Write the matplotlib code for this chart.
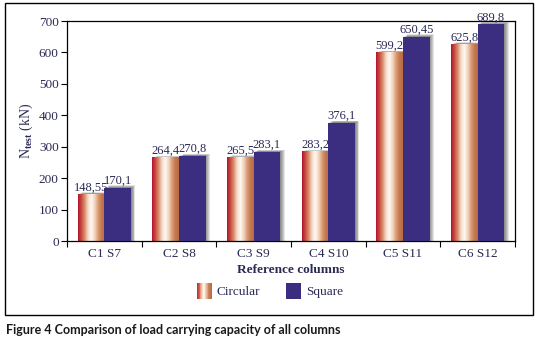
import numpy as np
import matplotlib
matplotlib.use("Agg")
import matplotlib.pyplot as plt
from matplotlib.patches import Rectangle
from matplotlib.colors import LinearSegmentedColormap
from matplotlib.legend_handler import HandlerBase

categories = ["C1 S7", "C2 S8", "C3 S9", "C4 S10", "C5 S11", "C6 S12"]
circular = [148.55, 264.4, 265.5, 283.2, 599.2, 625.8]
square = [170.1, 270.8, 283.1, 376.1, 650.45, 689.8]
circ_labels = ["148,55", "264,4", "265,5", "283,2", "599,2", "625,8"]
sq_labels = ["170,1", "270,8", "283,1", "376,1", "650,45", "689,8"]
yticks = [0, 100, 200, 300, 400, 500, 600, 700]

TXT = "#2a2a55"
SQ = "#3b2e80"
grad_colors = ["#b3102c", "#c84a40", "#d9906e", "#f6dccb", "#fff8f2",
               "#f3d3bd", "#d99a72", "#c4784f", "#b86a45"]
gcmap = LinearSegmentedColormap.from_list("circ", grad_colors)

plt.rcParams['font.family'] = ['Liberation Serif', 'DejaVu Serif']
plt.rcParams['mathtext.fontset'] = 'custom'
plt.rcParams['mathtext.rm'] = 'Liberation Serif'
plt.rcParams['mathtext.bf'] = 'Liberation Serif:bold'

fig = plt.figure(figsize=(5.39, 3.42), dpi=100)
ax = fig.add_axes([67/539, 1-241/342, (515-67)/539, (241-21)/342])

# outer frame
fig.patches.append(Rectangle((5/539, 1-315/342), 528/539, 312/342,
                             transform=fig.transFigure, fill=False,
                             edgecolor="black", linewidth=1.0))

x = np.arange(len(categories))
w = 0.355
off = w/2

# shadows
for vals, sh in ((circular, -off), (square, off)):
    for k in range(5):
        d = 0.012 * (k + 1)
        ax.bar(x + sh + d, np.array(vals) + 2 + k*1.2, width=w, color="black",
               alpha=0.11, zorder=1, linewidth=0)

bc = ax.bar(x - off, circular, width=w, color="none", linewidth=0, zorder=3)
bs = ax.bar(x + off, square, width=w, color=SQ, linewidth=0, zorder=3)

grad = np.linspace(0, 1, 256).reshape(1, -1)
for r in bc.patches:
    x0, y0 = r.get_x(), r.get_y()
    ax.imshow(grad, cmap=gcmap, aspect="auto", zorder=2.5,
              extent=(x0, x0 + r.get_width(), y0, y0 + r.get_height()),
              interpolation="bilinear")

for i in range(len(categories)):
    ax.text(x[i] - off, circular[i] + 3, circ_labels[i], ha="center", va="bottom",
            fontsize=9, color=TXT, zorder=5)
    ax.text(x[i] + off, square[i] + 3, sq_labels[i], ha="center", va="bottom",
            fontsize=9, color=TXT, zorder=5)

ax.set_xlim(-0.5, len(categories) - 0.5)
ax.set_ylim(0, 700)
ax.set_yticks(yticks)
ax.set_yticklabels([str(v) for v in yticks], color=TXT, fontsize=9.5)
ax.set_xticks(x)
ax.set_xticklabels(categories, color=TXT, fontsize=9.5)
ax.tick_params(axis="x", length=0, pad=5)
ax.set_xticks(np.arange(len(categories) + 1) - 0.5, minor=True)
ax.tick_params(axis="x", which="minor", length=4, direction="out", width=0.8)
ax.tick_params(axis="y", length=4, direction="out", width=0.8, pad=2)
for s in ax.spines.values():
    s.set_linewidth(0.9)

ax.set_ylabel(r"N$_{\mathbf{test}}$ (kN)", color=TXT, fontsize=10, labelpad=3)
ax.set_xlabel("Reference columns", color=TXT, fontsize=9.5, fontweight="bold", labelpad=3)


class GradHandler(HandlerBase):
    def create_artists(self, legend, orig_handle, xdescent, ydescent, width, height,
                       fontsize, trans):
        arts = []
        n = 20
        for k in range(n):
            c = gcmap((k + 0.5) / n)
            arts.append(Rectangle((-xdescent + width * k / n, -ydescent), width / n + 0.3,
                                  height, facecolor=c, edgecolor="none", transform=trans))
        return arts


h1 = Rectangle((0, 0), 1, 1)
h2 = Rectangle((0, 0), 1, 1, facecolor=SQ, edgecolor="none")
leg = fig.legend([h1, h2], ["Circular", "Square"], handler_map={h1: GradHandler()},
                 loc="center", bbox_to_anchor=(270/539, 1-291/342), ncol=2, frameon=False,
                 fontsize=9.5, handlelength=1.1, handleheight=1.5, columnspacing=2.0,
                 handletextpad=0.4, labelcolor=TXT)

fig.text(6/539, 1-330/342, "Figure 4 Comparison of load carrying capacity of all columns",
         fontsize=9, fontweight="bold", family=["Lato", "DejaVu Sans"], color="#1a1a1a",
         va="center", ha="left")

fig.savefig("out.png", dpi=100)
